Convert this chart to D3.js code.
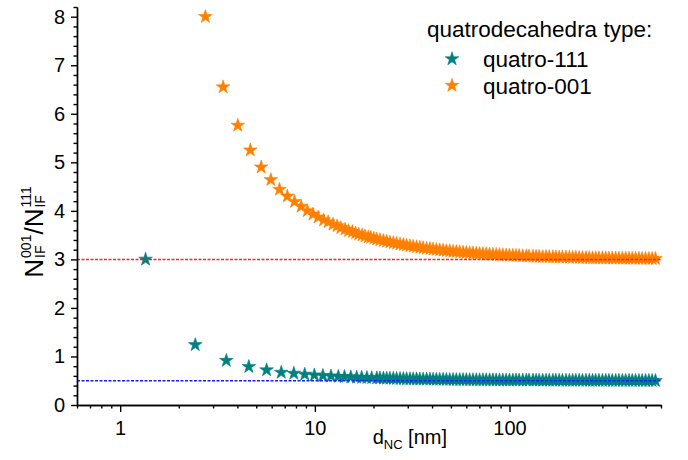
<!DOCTYPE html>
<html>
<head>
<meta charset="utf-8">
<script src="https://cdn.jsdelivr.net/npm/d3@7"></script>
<style>
  body { margin: 0; background: #fff; }
  text { font-family: "Liberation Sans", Arial, sans-serif; fill: #000; }
</style>
</head>
<body>
<div id="chart"></div>
<script>
// quatro-111 : single points at small sizes
var early111D = [1.35, 2.43, 3.51, 4.58, 5.65, 6.72, 7.80, 8.87, 9.94, 11.0, 12.1, 13.2, 14.2, 15.3, 16.4, 17.4, 18.5, 19.6];
var early111 = [3.0, 1.24, 0.915, 0.79, 0.72, 0.67, 0.65, 0.63, 0.616, 0.605, 0.595, 0.587, 0.581, 0.575, 0.570, 0.566, 0.562, 0.559];

// quatro-001 : single points at small sizes
var early001D = [2.74, 3.38, 4.02, 4.66, 5.30, 5.94, 6.58, 7.22, 7.86, 8.50, 9.15, 9.79, 10.4, 11.1, 11.7, 12.4, 13.0, 13.6,
  14.3, 14.9, 15.6, 16.2, 16.8, 17.5, 18.1, 18.8, 19.4, 20.1];
var early001 = [8.0, 6.55, 5.76, 5.25, 4.90, 4.64, 4.44, 4.30, 4.19, 4.09, 4.00, 3.93, 3.87, 3.81, 3.77, 3.72, 3.69, 3.65,
  3.62, 3.59, 3.57, 3.54, 3.52, 3.50, 3.48, 3.46, 3.45, 3.43];

// dense part of both series (read along the bands)
var tailD = [20.8, 21.6, 22.5, 23.4, 24.3, 25.3, 26.3, 27.4, 28.5, 29.6,
  30.8, 32.0, 33.3, 34.6, 36.0, 37.5, 39.0, 40.5, 42.1, 43.8,
  45.6, 47.4, 49.3, 51.3, 53.3, 55.5, 57.7, 60.0, 62.4, 64.9,
  67.5, 70.2, 73.0, 75.9, 79.0, 82.1, 85.4, 88.8, 92.4, 96.1,
  99.9, 104, 108, 112, 117, 122, 126, 132, 137, 142,
  148, 154, 160, 167, 173, 180, 187, 195, 203, 211,
  219, 228, 237, 247, 257, 267, 277, 288, 300, 312,
  324, 337, 351, 365, 380, 395, 411, 427, 444, 462,
  480, 500, 520, 540, 562];
var tail111 = [0.555, 0.553, 0.551, 0.549, 0.547, 0.545, 0.544, 0.542, 0.540, 0.539,
  0.537, 0.536, 0.535, 0.533, 0.532, 0.531, 0.529, 0.528, 0.527, 0.526,
  0.525, 0.524, 0.523, 0.522, 0.522, 0.521, 0.520, 0.519, 0.518, 0.518,
  0.517, 0.516, 0.516, 0.515, 0.515, 0.514, 0.513, 0.513, 0.512, 0.512,
  0.512, 0.511, 0.511, 0.510, 0.510, 0.509, 0.509, 0.509, 0.508, 0.508,
  0.508, 0.507, 0.507, 0.507, 0.507, 0.506, 0.506, 0.506, 0.506, 0.505,
  0.505, 0.505, 0.505, 0.505, 0.504, 0.504, 0.504, 0.504, 0.504, 0.504,
  0.504, 0.503, 0.503, 0.503, 0.503, 0.503, 0.503, 0.503, 0.503, 0.502,
  0.502, 0.502, 0.502, 0.502, 0.502];
var tail001 = [3.418, 3.401, 3.385, 3.369, 3.355, 3.341, 3.327, 3.314, 3.301, 3.290,
  3.278, 3.267, 3.256, 3.247, 3.237, 3.227, 3.218, 3.210, 3.202, 3.194,
  3.186, 3.179, 3.172, 3.165, 3.159, 3.152, 3.146, 3.141, 3.135, 3.130,
  3.125, 3.120, 3.115, 3.111, 3.106, 3.102, 3.098, 3.095, 3.091, 3.087,
  3.084, 3.081, 3.078, 3.075, 3.071, 3.069, 3.066, 3.063, 3.061, 3.059,
  3.056, 3.054, 3.052, 3.050, 3.048, 3.046, 3.045, 3.043, 3.041, 3.040,
  3.038, 3.037, 3.035, 3.034, 3.032, 3.031, 3.030, 3.029, 3.028, 3.027,
  3.026, 3.025, 3.024, 3.023, 3.022, 3.021, 3.020, 3.019, 3.019, 3.018,
  3.017, 3.017, 3.016, 3.015, 3.015];

var seriesNames = ["quatro-111", "quatro-001"];
var seriesColors = ["#008080", "#ff8000"];
var limits = [0.5, 3];
var limitColors = ["#1a1aff", "#ff2020"];
var xMajor = [1, 10, 100];
var xMinor = [0.6, 0.7, 0.8, 0.9, 2, 3, 4, 5, 6, 7, 8, 9, 20, 30, 40, 50, 60, 70, 80, 90, 200, 300, 400, 500, 600];
var yMajor = [0, 1, 2, 3, 4, 5, 6, 7, 8];

var W = 688, H = 460;
var margin = {top: 7, right: 27, bottom: 55, left: 77};

var svg = d3.select("#chart").append("svg")
    .attr("width", W)
    .attr("height", H);

var x = d3.scaleLog()
    .domain([0.6, 600])
    .range([margin.left, W - margin.right]);

var y = d3.scaleLinear()
    .domain([0, 8.2])
    .range([H - margin.bottom, margin.top]);

// y minor ticks every 0.2
var yMinor = d3.range(0, 8.21, 0.2).filter(function(v) {
    return Math.abs(v - Math.round(v)) > 0.01;
});

// join values into points
function pts(ds, vs) {
    return ds.map(function(d, i) { return {d: d, v: vs[i]}; });
}
var data111 = pts(early111D, early111).concat(pts(tailD, tail111));
var data001 = pts(early001D, early001).concat(pts(tailD, tail001));

var star = d3.symbol().type(d3.symbolStar).size(58);

// series
[data111, data001].forEach(function(series, k) {
    svg.append("g").selectAll("path")
        .data(series)
        .enter()
        .append("path")
        .attr("d", star)
        .attr("transform", function(p) {
            return "translate(" + x(p.d) + "," + y(p.v) + ")";
        })
        .attr("fill", seriesColors[k])
        .attr("stroke", seriesColors[k])
        .attr("stroke-width", 0.6);
});

// dotted limit lines on top of the stars
svg.append("g").selectAll("line")
    .data(limits)
    .enter()
    .append("line")
    .attr("x1", x(0.6))
    .attr("x2", x(600))
    .attr("y1", function(d) { return y(d); })
    .attr("y2", function(d) { return y(d); })
    .style("stroke", function(d, i) { return limitColors[i]; })
    .style("stroke-width", 1.5)
    .style("stroke-dasharray", "3,1.5");

// axes
function styleAxis(g) {
    g.selectAll(".tick line").attr("stroke", "#000").attr("stroke-width", 1.4);
    g.select(".domain").attr("stroke", "#000").attr("stroke-width", 1.4);
    g.selectAll("text").style("font-size", "20px").attr("fill", "#000");
}

svg.append("g")
    .attr("transform", "translate(0," + (H - margin.bottom) + ")")
    .call(d3.axisBottom(x).tickValues(xMinor).tickSize(3.5).tickSizeOuter(0).tickFormat(""))
    .call(styleAxis);

svg.append("g")
    .attr("transform", "translate(0," + (H - margin.bottom) + ")")
    .call(d3.axisBottom(x).tickValues(xMajor).tickSize(7).tickSizeOuter(0).tickPadding(9)
        .tickFormat(d3.format("d")))
    .call(styleAxis);

svg.append("g")
    .attr("transform", "translate(" + margin.left + ",0)")
    .call(d3.axisLeft(y).tickValues(yMinor).tickSize(3.5).tickSizeOuter(0).tickFormat(""))
    .call(styleAxis);

svg.append("g")
    .attr("transform", "translate(" + margin.left + ",0)")
    .call(d3.axisLeft(y).tickValues(yMajor).tickSize(6).tickSizeOuter(0).tickPadding(6)
        .tickFormat(d3.format("d")))
    .call(styleAxis);

// x title
var xt = svg.append("text")
    .attr("x", 447)
    .attr("y", 444)
    .attr("text-anchor", "end")
    .style("font-size", "20px");
xt.append("tspan").text("d");
xt.append("tspan").attr("dy", 5).style("font-size", "13px").text("NC");
xt.append("tspan").attr("dy", -5).text(" [nm]");

// y title, built piece by piece with stacked sub/superscripts
var yt = svg.append("g").attr("transform", "translate(43,232) rotate(-90)");
var parts = [
    {big: "N"}, {sup: "001", sub: "IF"}, {big: "/ "}, {big: "N"}, {sup: "111", sub: "IF"}
];
var pos = 0;
var nodes = [];
parts.forEach(function(p) {
    var w = 0;
    if (p.big) {
        var t = yt.append("text").style("font-size", "26px").text(p.big);
        w = t.node().getComputedTextLength();
        nodes.push({n: t, off: pos});
    } else {
        var a = yt.append("text").style("font-size", "14px").attr("y", -12).text(p.sup);
        var b = yt.append("text").style("font-size", "14px").attr("y", 2).text(p.sub);
        w = Math.max(a.node().getComputedTextLength(), b.node().getComputedTextLength());
        nodes.push({n: a, off: pos + 1});
        nodes.push({n: b, off: pos + 1});
        w += 1;
    }
    pos += w;
});
nodes.forEach(function(o) { o.n.attr("x", o.off - pos / 2); });

// legend
var lg = svg.append("g");
lg.append("text")
    .attr("x", 427)
    .attr("y", 37)
    .style("font-size", "22.5px")
    .text("quatrodecahedra type:");
seriesNames.forEach(function(name, i) {
    var yy = 67 + i * 26.5;
    lg.append("path")
        .attr("d", star)
        .attr("transform", "translate(452," + (yy - 8) + ")")
        .attr("fill", seriesColors[i])
        .attr("stroke", seriesColors[i])
        .attr("stroke-width", 0.6);
    lg.append("text")
        .attr("x", 483)
        .attr("y", yy)
        .style("font-size", "22.5px")
        .text(name);
});
</script>
</body>
</html>
